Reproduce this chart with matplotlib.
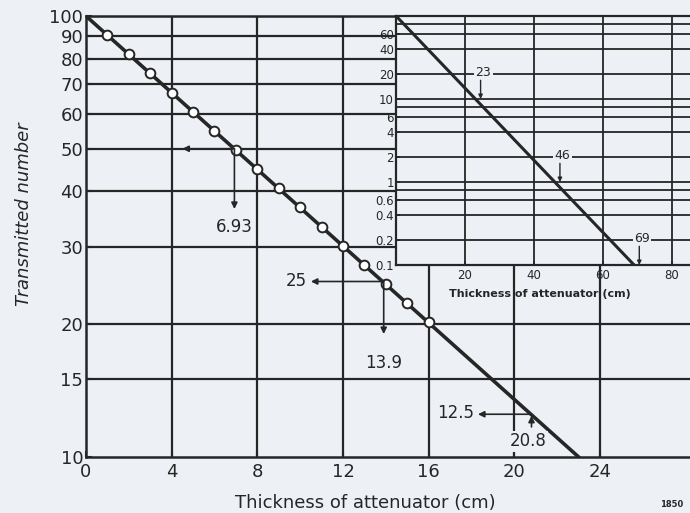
import numpy as np
import matplotlib.pyplot as plt
from matplotlib.ticker import FixedLocator, NullLocator

plt.rcParams['font.family'] = ['DejaVu Sans']

# main chart data
hvl = 6.93
thickness_pts = [1, 2, 3, 4, 5, 6, 7, 8, 9, 10, 11, 12, 13, 14, 15, 16]
transmitted_pts = [90.5, 81.9, 74.1, 67.0, 60.7, 54.9, 49.7, 45.0, 40.7, 36.8, 33.3, 30.1, 27.3, 24.7, 22.3, 20.2]
line_x = [0, 23.0]
line_y = [100, 10]
main_yticks = [10, 15, 20, 30, 40, 50, 60, 70, 80, 90, 100]
main_xticks = [0, 4, 8, 12, 16, 20, 24]

# inset data
inset_line_x = [0, 69]
inset_line_y = [100, 0.1]
inset_yticks = [0.1, 0.2, 0.4, 0.6, 1, 2, 4, 6, 10, 20, 40, 60]
inset_grid_y = [0.2, 0.4, 0.6, 0.8, 1, 2, 4, 6, 8, 10, 20, 40, 60, 80]
inset_xticks = [20, 40, 60, 80]

bg = '#edf1f6'
ink = '#262626'

fig = plt.figure(figsize=(6.9, 5.13), dpi=100, facecolor=bg)
ax = fig.add_axes([0.1246, 0.1092, 0.8754, 0.8596], facecolor=bg)
ax.set_yscale('log')
ax.set_xlim(0, 28.2)
ax.set_ylim(10, 100)

for v in main_yticks[1:]:
    ax.axhline(v, color=ink, lw=1.6, zorder=1)
for v in main_xticks[1:]:
    ax.axvline(v, color=ink, lw=1.6, zorder=1)

ax.yaxis.set_major_locator(FixedLocator(main_yticks))
ax.yaxis.set_minor_locator(NullLocator())
ax.set_yticklabels([str(v) for v in main_yticks])
ax.set_xticks(main_xticks)
ax.tick_params(colors=ink, labelsize=13, length=4, width=1.5, direction='in', pad=2)
ax.tick_params(axis='x', pad=4)
for s in ['left', 'bottom', 'top']:
    ax.spines[s].set_color(ink)
    ax.spines[s].set_linewidth(1.8)
ax.spines['right'].set_visible(False)

ax.plot(line_x, line_y, color=ink, lw=2.6, zorder=3)
ax.plot(thickness_pts, transmitted_pts, 'o', ms=7, mfc='white', mec=ink, mew=1.4, zorder=4)

arrow = dict(arrowstyle='-|>', color=ink, lw=1.2, mutation_scale=9, shrinkA=0, shrinkB=0)
box = dict(facecolor=bg, edgecolor='none', pad=1)

# half value layer 6.93
ax.annotate('', xy=(4.5, 50), xytext=(hvl, 50), arrowprops=arrow, zorder=5)
ax.annotate('', xy=(hvl, 36.5), xytext=(hvl, 50), arrowprops=arrow, zorder=5)
ax.text(hvl, 33.3, '6.93', ha='center', va='center', fontsize=12, color=ink)

# 25 / 13.9
ax.annotate('', xy=(10.5, 25), xytext=(13.9, 25), arrowprops=arrow, zorder=5)
ax.text(10.3, 25, '25', ha='right', va='center', fontsize=12, color=ink, bbox=box, zorder=5)
ax.annotate('', xy=(13.9, 19.0), xytext=(13.9, 25), arrowprops=arrow, zorder=5)
ax.text(13.9, 16.3, '13.9', ha='center', va='center', fontsize=12, color=ink, bbox=box, zorder=5)

# 12.5 / 20.8
ax.annotate('', xy=(18.3, 12.5), xytext=(20.8, 12.5), arrowprops=arrow, zorder=5)
ax.text(18.1, 12.6, '12.5', ha='right', va='center', fontsize=12, color=ink, bbox=box, zorder=5)
ax.annotate('', xy=(20.8, 12.4), xytext=(20.8, 11.7), arrowprops=arrow, zorder=5)
ax.text(20.65, 10.85, '20.8', ha='center', va='center', fontsize=12, color=ink, bbox=box, zorder=5)

ax.set_ylabel('Transmitted number', fontsize=13, style='italic', color=ink)
ax.yaxis.set_label_coords(-0.087, 0.55)
ax.set_xlabel('Thickness of attenuator (cm)', fontsize=13, color=ink)
ax.xaxis.set_label_coords(0.462, -0.085)

fig.text(0.99, 0.012, '1850', fontsize=6, weight='bold', color=ink, ha='right')

# inset
ins = fig.add_axes([0.574, 0.4834, 0.426, 0.4854], facecolor=bg)
ins.set_yscale('log')
ins.set_xlim(0, 85.2)
ins.set_ylim(0.1, 100)
for v in inset_grid_y:
    ins.axhline(v, color=ink, lw=1.3, zorder=1)
for v in inset_xticks:
    ins.axvline(v, color=ink, lw=1.3, zorder=1)
ins.yaxis.set_major_locator(FixedLocator(inset_yticks))
ins.yaxis.set_minor_locator(NullLocator())
ins.set_yticklabels([f'{v:g}' for v in inset_yticks])
ins.set_xticks(inset_xticks)
ins.tick_params(colors=ink, labelsize=8.5, length=3, width=1.2, direction='in', pad=1.5)
ins.tick_params(axis='x', pad=3)
for s in ['left', 'bottom', 'top']:
    ins.spines[s].set_color(ink)
    ins.spines[s].set_linewidth(1.6)
ins.spines['right'].set_visible(False)
ins.plot(inset_line_x, inset_line_y, color=ink, lw=2.2, zorder=3)

small_arrow = dict(arrowstyle='-|>', color=ink, lw=1.0, mutation_scale=6, shrinkA=0, shrinkB=0)
for xv, ytxt in [(23, 21), (46, 2.1), (69, 0.21)]:
    yline = 100 * 10 ** (-3 * xv / 69)
    ins.text(xv, ytxt, str(xv), ha='left', va='center', fontsize=9, color=ink,
             bbox=dict(facecolor=bg, edgecolor='none', pad=1), zorder=5)
    ins.annotate('', xy=(xv + 1.5, yline), xytext=(xv + 1.5, ytxt * 0.8), arrowprops=small_arrow, zorder=5)
ins.set_xlabel('Thickness of attenuator (cm)', fontsize=8, weight='bold', color=ink, labelpad=1)
ins.xaxis.set_label_coords(0.49, -0.095)

fig.savefig('out.png', dpi=100, facecolor=bg)
